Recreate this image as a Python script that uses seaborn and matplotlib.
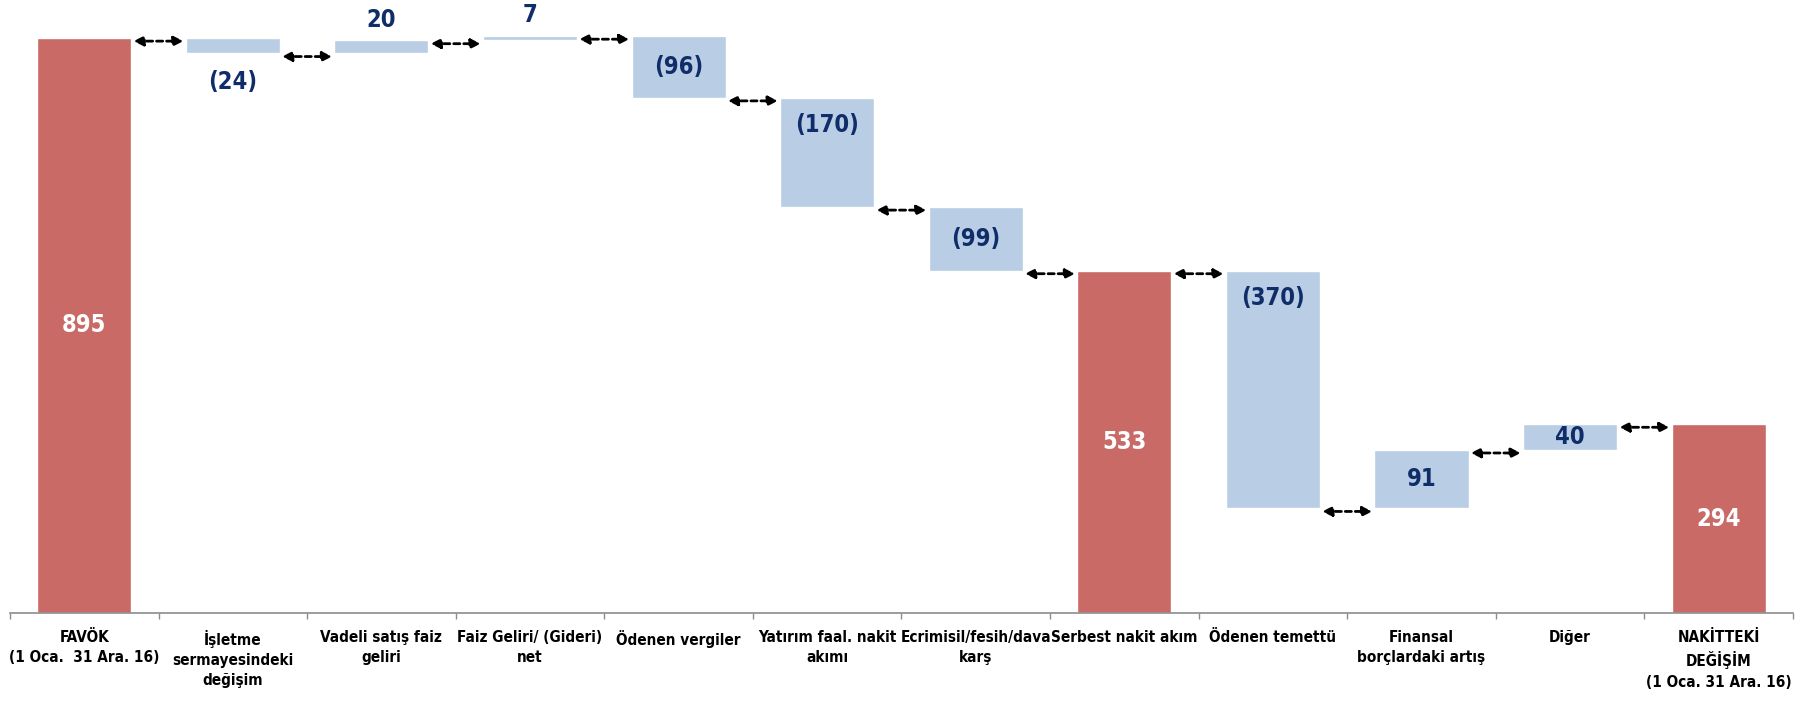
import os
import numpy as np
import pandas as pd
import matplotlib
matplotlib.use("Agg")
import matplotlib.pyplot as plt
from matplotlib import font_manager as fm
import seaborn as sns

# chart data
categories = [
    "FAVÖK\n(1 Oca.  31 Ara. 16)",
    "İşletme\nsermayesindeki\ndeğişim",
    "Vadeli satış faiz\ngeliri",
    "Faiz Geliri/ (Gideri)\nnet",
    "Ödenen vergiler",
    "Yatırım faal. nakit\nakımı",
    "Ecrimisil/fesih/dava\nkarş",
    "Serbest nakit akım",
    "Ödenen temettü",
    "Finansal\nborçlardaki artış",
    "Diğer",
    "NAKİTTEKİ\nDEĞİŞİM\n(1 Oca. 31 Ara. 16)",
]
values = [895, -24, 20, 7, -96, -170, -99, 533, -370, 91, 40, 294]
is_total = [True, False, False, False, False, False, False, True, False, False, False, True]

RED = "#C96A67"
BLUE = "#B9CDE4"
NAVY = "#0F2D69"


# the original uses an Arial Narrow look; use a condensed face if one is installed
def pick_font():
    found = []
    for f in fm.fontManager.ttflist:
        tag = (f.name + " " + os.path.basename(f.fname)).lower()
        if "mono" in tag or "serif" in tag:
            continue
        if "narrow" in tag or "condensed" in tag or f.stretch in ("condensed", "semi-condensed"):
            found.append(f.name)
    if not found:
        return ["Liberation Sans", "DejaVu Sans"], False
    found.sort(key=lambda n: 0 if "liberation" in n.lower() else 1)
    return [found[0], "DejaVu Sans"], True


def waterfall_frame(cats, vals, totals):
    rows = []
    level = 0
    for c, v, t in zip(cats, vals, totals):
        if t:
            base, top, level = 0, v, v
        else:
            base, top = min(level, level + v), max(level, level + v)
            level = level + v
        rows.append({"cat": c, "value": v, "base": base, "top": top,
                     "kind": "total" if t else "delta", "level": level})
    return pd.DataFrame(rows)


def fmt(v):
    return f"({abs(v)})" if v < 0 else f"{v}"


def main():
    sns.set_style("white")
    font, narrow = pick_font()
    plt.rcParams["font.family"] = font
    lab_size = 11 if narrow else 10
    val_size = 17 if narrow else 15

    df = waterfall_frame(categories, values, is_total)
    bar_w = 0.633

    fig = plt.figure(figsize=(18.02, 7.07), dpi=100)
    ax = fig.add_axes([0.0055, 0.133, 0.9895, 0.867])

    # colored bars up to the top, then white bars hide everything below the base
    sns.barplot(data=df, x="cat", y="top", hue="kind", palette={"total": RED, "delta": BLUE},
                dodge=False, width=bar_w, saturation=1, legend=False, ax=ax, order=categories)
    sns.barplot(data=df, x="cat", y="base", color="white", width=bar_w, saturation=1,
                ax=ax, order=categories, edgecolor="white", linewidth=1)

    # value labels
    for i, r in df.iterrows():
        v = r["value"]
        if r["kind"] == "total":
            y, col = (r["base"] + r["top"]) / 2, "white"
        elif abs(v) < 30:
            y, col = (r["top"] + 32, NAVY) if v > 0 else (r["base"] - 45, NAVY)
        elif abs(v) < 150:
            y, col = (r["base"] + r["top"]) / 2, NAVY
        else:
            y, col = r["top"] - 43, NAVY
        ax.text(i, y, fmt(v), ha="center", va="center", color=col,
                fontsize=val_size, fontweight="bold", family=font, fontstretch="condensed")

    # dashed double arrows linking consecutive bars
    for i in range(len(df) - 1):
        lvl = df.loc[i, "level"] - 5
        x1 = i + bar_w / 2 + 0.015
        x2 = i + 1 - bar_w / 2 - 0.015
        ax.annotate("", xy=(x2, lvl), xytext=(x1, lvl),
                    arrowprops=dict(arrowstyle="<|-|>", color="black", lw=2,
                                    linestyle=(0, (2.2, 1.4)), mutation_scale=14,
                                    shrinkA=0, shrinkB=0))

    ax.set_xlim(-0.5, len(categories) - 0.5)
    ax.set_ylim(0, 954)
    ax.set_xlabel("")
    ax.set_ylabel("")
    ax.set_yticks([])

    for s in ["top", "right", "left"]:
        ax.spines[s].set_visible(False)
    ax.spines["bottom"].set_color("#8C8C8C")
    ax.spines["bottom"].set_linewidth(1.2)

    ax.set_xticks(range(len(categories)))
    ax.set_xticklabels(categories, fontsize=lab_size, fontweight="bold", family=font,
                       fontstretch="condensed", linespacing=1.45, color="black")
    ax.set_xticks(np.arange(-0.5, len(categories), 1), minor=True)
    ax.tick_params(axis="x", which="major", length=0, pad=12)
    ax.tick_params(axis="x", which="minor", length=4, width=1, color="#8C8C8C",
                   direction="out", bottom=True)

    fig.savefig("out.png", dpi=100)


if __name__ == "__main__":
    main()
